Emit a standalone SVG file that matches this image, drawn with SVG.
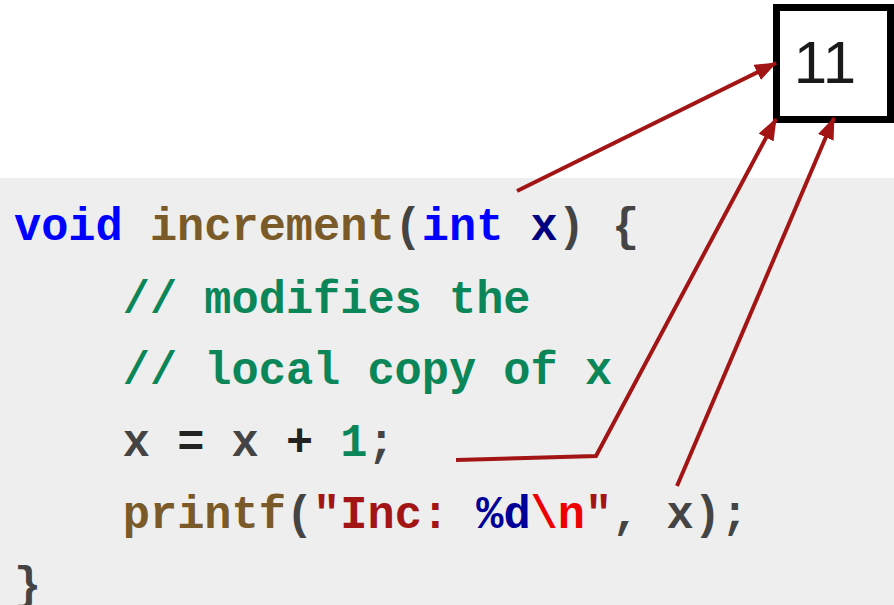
<svg xmlns="http://www.w3.org/2000/svg" width="894" height="605" viewBox="0 0 894 605">
<defs>
<style>
.code{font-family:"Liberation Mono","Courier New",monospace;font-weight:bold;font-size:45.3px;white-space:pre}
.kw{fill:#0000ff}.fn{fill:#7a5a28}.p{fill:#444444}.v{fill:#000080}.cm{fill:#0b8658}.num{fill:#0b8658}
.str{fill:#a31515}.fmt{fill:#000099}.esc{fill:#ee0000}.op{fill:#222222}.id{fill:#444444}
.conn{fill:none;stroke:#a31515;stroke-width:4}
</style>
<marker id="ah" markerUnits="userSpaceOnUse" markerWidth="22" markerHeight="18" refX="21" refY="8.5" orient="auto">
<path d="M0,0 L22,8.5 L0,17 z" fill="#a31515"/>
</marker>
</defs>
<rect x="0" y="0" width="894" height="605" fill="#ffffff"/>
<rect x="0" y="178" width="894" height="427" fill="#eeeeee"/>
<g id="code">
<text class="code" x="14" y="240" xml:space="preserve"><tspan class="kw">void</tspan> <tspan class="fn">increment</tspan><tspan class="p">(</tspan><tspan class="kw">int</tspan> <tspan class="v">x</tspan><tspan class="p">)</tspan> <tspan class="p">{</tspan></text>
<text class="code cm" x="122.8" y="313" xml:space="preserve">// modifies the</text>
<text class="code cm" x="122.8" y="384" xml:space="preserve">// local copy of x</text>
<text class="code" x="122.8" y="456" xml:space="preserve"><tspan class="id">x</tspan> <tspan class="op">=</tspan> <tspan class="id">x</tspan> <tspan class="op">+</tspan> <tspan class="num">1</tspan><tspan class="p">;</tspan></text>
<text class="code" x="122.8" y="528" xml:space="preserve"><tspan class="fn">printf</tspan><tspan class="p">(</tspan><tspan class="str">"Inc: </tspan><tspan class="fmt">%d</tspan><tspan class="esc">\n</tspan><tspan class="str">"</tspan><tspan class="p">, </tspan><tspan class="id">x</tspan><tspan class="p">);</tspan></text>
<text class="code p" x="14" y="599" xml:space="preserve">}</text>
</g>
<g id="box11">
<rect x="776.5" y="7.5" width="114" height="112" fill="#ffffff" stroke="#000000" stroke-width="7"/>
<text x="825" y="83" font-family="Liberation Sans, Arial, sans-serif" font-size="60" fill="#1a1a1a" text-anchor="middle">11</text>
</g>
<g id="connectors">
<line class="conn" x1="517" y1="191" x2="776" y2="63" marker-end="url(#ah)"/>
<polyline class="conn" points="456,460 596,456 776,119" marker-end="url(#ah)"/>
<line class="conn" x1="677" y1="486" x2="834" y2="118" marker-end="url(#ah)"/>
</g>
</svg>
